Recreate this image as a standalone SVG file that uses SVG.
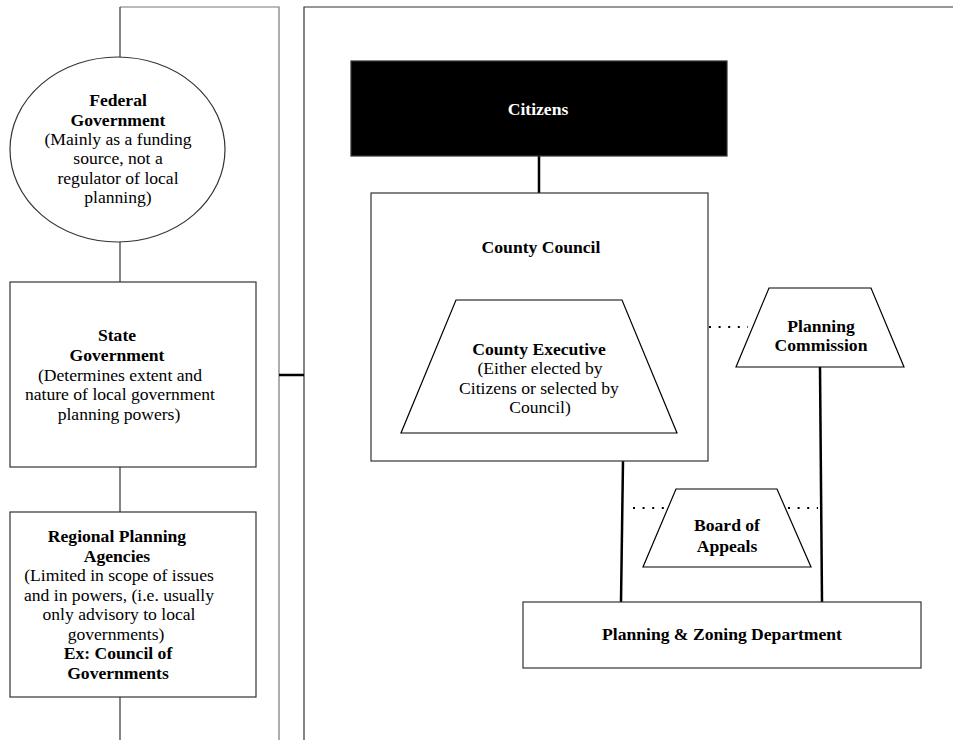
<svg xmlns="http://www.w3.org/2000/svg" width="953" height="740" viewBox="0 0 953 740">
<style>
text{font-family:"Liberation Serif","Times New Roman",serif;font-size:17.6px;fill:#000;text-anchor:middle}
.b{font-weight:bold}
.shape{fill:#fff;stroke:#333;stroke-width:1.2}
.frame{fill:none;stroke:#333;stroke-width:1.2}
.thin{stroke:#333;stroke-width:1.2;fill:none}
.thick{stroke:#000;stroke-width:2.5;fill:none}
.dot{stroke:#000;stroke-width:2;fill:none;stroke-dasharray:2 7.6}
</style>
<rect width="953" height="740" fill="#fff"/>
<g id="frames">
<polyline class="frame" points="120,7 279,7 279,740" style="stroke:#777"/>
<polyline class="frame" points="304,740 304,7 953,7"/>
</g>
<g id="connectors">
<line class="thin" x1="120" y1="7" x2="120" y2="58"/>
<line class="thin" x1="120" y1="242" x2="120" y2="282"/>
<line class="thin" x1="120" y1="467" x2="120" y2="512"/>
<line class="thin" x1="120" y1="697" x2="120" y2="740"/>
<line class="thick" x1="279" y1="375" x2="304" y2="375"/>
<line class="thick" x1="539" y1="156" x2="539" y2="193"/>
<line class="thick" x1="623" y1="461" x2="621" y2="602"/>
<line class="thick" x1="820" y1="367" x2="822" y2="602"/>
<line class="dot" x1="709" y1="327" x2="748" y2="327"/>
<line class="dot" x1="633" y1="508" x2="664" y2="508"/>
<line class="dot" x1="788" y1="508" x2="818" y2="508"/>
</g>
<g id="federal">
<ellipse class="shape" cx="117.5" cy="149.5" rx="107.5" ry="92.5"/>
<text x="118" y="106" class="b">Federal</text>
<text x="118" y="126" class="b">Government</text>
<text x="118" y="145">(Mainly as a funding</text>
<text x="118" y="164">source, not a</text>
<text x="118" y="184">regulator of local</text>
<text x="118" y="203">planning)</text>
</g>
<g id="state">
<rect class="shape" x="10" y="282" width="246" height="185"/>
<text x="117" y="341" class="b">State</text>
<text x="117" y="361" class="b">Government</text>
<text x="120" y="381">(Determines extent and</text>
<text x="120" y="400">nature of local government</text>
<text x="119" y="420">planning powers)</text>
</g>
<g id="regional">
<rect class="shape" x="10" y="512" width="246" height="185"/>
<text x="117" y="542" class="b">Regional Planning</text>
<text x="117" y="562" class="b">Agencies</text>
<text x="119" y="581">(Limited in scope of issues</text>
<text x="119" y="601">and in powers, (i.e. usually</text>
<text x="119" y="620">only advisory to local</text>
<text x="116" y="640">governments)</text>
<text x="118" y="659" class="b">Ex: Council of</text>
<text x="118" y="679" class="b">Governments</text>
</g>
<g id="citizens">
<rect x="351" y="61" width="376" height="95" fill="#000" stroke="#333" stroke-width="1.2"/>
<text x="538" y="115" class="b" style="fill:#fff">Citizens</text>
</g>
<g id="county-council">
<rect class="shape" x="371" y="193" width="337" height="268"/>
<text x="541" y="253" class="b">County Council</text>
</g>
<g id="county-executive">
<polygon class="shape" points="456,300 622,300 677,433 401,433" style="stroke:#000"/>
<text x="539" y="355" class="b">County Executive</text>
<text x="540" y="374">(Either elected by</text>
<text x="539" y="394">Citizens or selected by</text>
<text x="540" y="413">Council)</text>
</g>
<g id="planning-commission">
<polygon class="shape" points="769,288 871,288 904,367 736,367" style="stroke:#000"/>
<text x="821" y="332" class="b">Planning</text>
<text x="821" y="351" class="b">Commission</text>
</g>
<g id="board-of-appeals">
<polygon class="shape" points="676,489 777,489 811,567 643,567" style="stroke:#000"/>
<text x="727" y="531" class="b">Board of</text>
<text x="727" y="552" class="b">Appeals</text>
</g>
<g id="planning-zoning">
<rect class="shape" x="523" y="602" width="398" height="66"/>
<text x="722" y="640" class="b">Planning &amp; Zoning Department</text>
</g>
</svg>
